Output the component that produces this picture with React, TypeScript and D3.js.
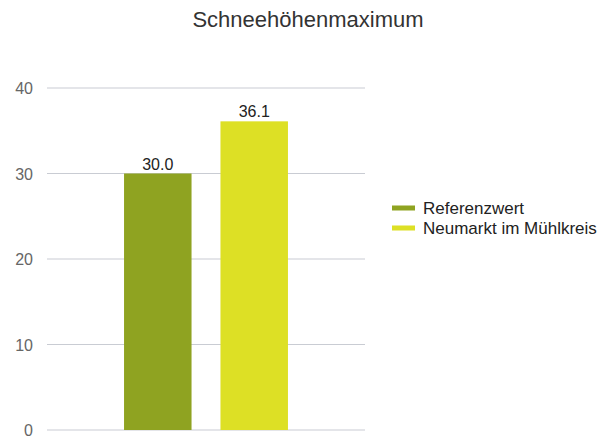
import React from "react";
import * as d3 from "d3";

const title = "Schneehöhenmaximum";
const seriesNames = ["Referenzwert", "Neumarkt im Mühlkreis"];
const seriesValues = [30.0, 36.1];
const seriesColors = ["#8fa321", "#dde025"];
const yTicks = [0, 10, 20, 30, 40];

const W = 616;
const H = 441;
const plotLeft = 47;
const plotRight = 365;
const plotTop = 88;
const plotBottom = 430;

export default function App() {
  const y = d3.scaleLinear().domain([0, 40]).range([plotBottom, plotTop]);
  const group = d3.scaleBand<string>().domain(["g"]).range([plotLeft, plotRight]).paddingOuter(0.47).paddingInner(0);
  const gx = group("g") as number;
  const gw = group.bandwidth();
  const inner = d3
    .scaleBand<string>()
    .domain(seriesNames)
    .range([gx, gx + gw])
    .paddingInner(0.3)
    .paddingOuter(0);
  const font = "'Liberation Sans', Arial, Helvetica, sans-serif";
  return (
    <svg
      width={W}
      height={H}
      style={{ position: "absolute", left: 0, top: 0, background: "#fff" }}
      fontFamily={font}
    >
      <text x={W / 2} y={27} textAnchor="middle" fontSize={22} fill="#333">
        {title}
      </text>
      {yTicks.map((t) => (
        <g key={t}>
          <line x1={plotLeft} x2={plotRight} y1={y(t)} y2={y(t)} stroke="#c9ccd3" strokeWidth={1.2} />
          <text x={33} y={y(t) + 6} textAnchor="end" fontSize={16} fill="#666">
            {t}
          </text>
        </g>
      ))}
      {seriesNames.map((s, i) => {
        const x = inner(s) as number;
        const bw = inner.bandwidth();
        return (
          <g key={s}>
            <rect x={x} y={y(seriesValues[i])} width={bw} height={y(0) - y(seriesValues[i])} fill={seriesColors[i]} />
            <text x={x + bw / 2} y={y(seriesValues[i]) - 4} textAnchor="middle" fontSize={16} fill="#222">
              {seriesValues[i].toFixed(1)}
            </text>
          </g>
        );
      })}
      {seriesNames.map((s, i) => (
        <g key={s} transform={`translate(392, ${208 + i * 20})`}>
          <rect x={0} y={-2.5} width={23} height={5} fill={seriesColors[i]} />
          <text x={31} y={6} fontSize={17} fill="#222">
            {s}
          </text>
        </g>
      ))}
    </svg>
  );
}
